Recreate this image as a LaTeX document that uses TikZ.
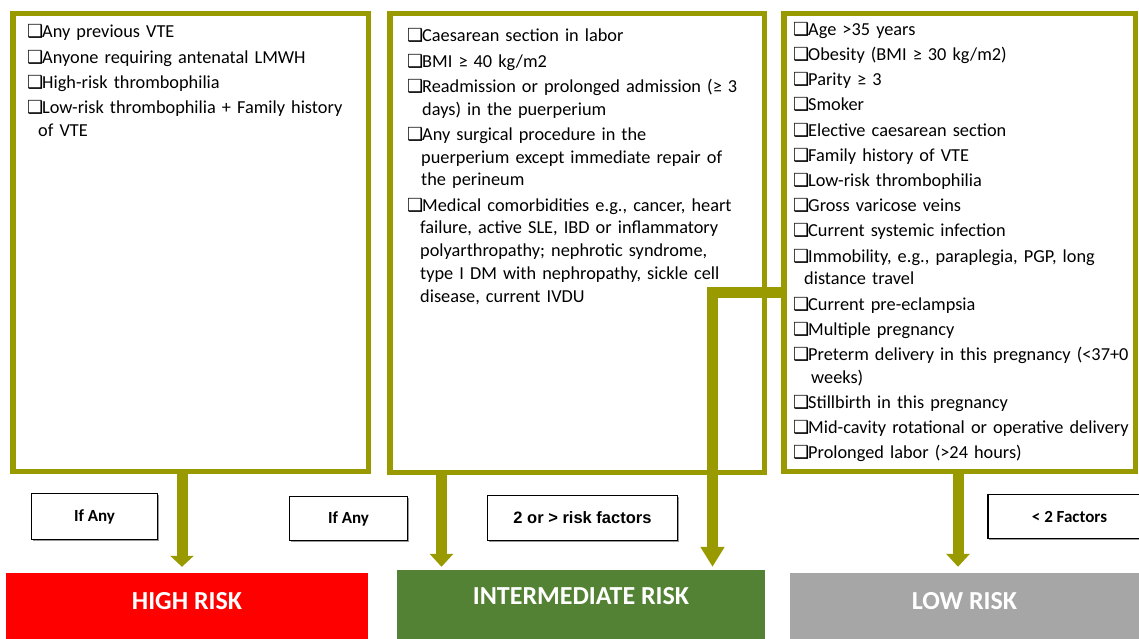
\documentclass[tikz,border=0pt]{standalone}
\usepackage{fontspec}
\setmainfont{Carlito}
\newfontfamily\dvfont{DejaVu Sans}
\newfontfamily\libfont{Liberation Sans}
\usetikzlibrary{arrows.meta,shadows}
\definecolor{olivebar}{RGB}{153,153,0}
\definecolor{hired}{RGB}{255,0,0}
\definecolor{midgreen}{RGB}{84,130,53}
\definecolor{lowgray}{RGB}{166,166,166}
\newcommand\cbx{\strut\makebox[15pt][l]{\dvfont\fontsize{18}{18}\selectfont ❑}}
\newcommand\itm[2][12pt]{\par\hangindent=#1\hangafter=1\noindent\cbx#2}
\begin{document}
\begin{tikzpicture}[x=1pt,y=-1pt,
  bigbox/.style={draw=olivebar, line width=5.5pt, fill=white, inner sep=0pt},
  listtxt/.style={anchor=north west, inner sep=0pt, text width=370pt, align=left,
    font=\fontsize{18.3}{22.8}\selectfont},
  riskbox/.style={fill=#1, text=white, inner sep=0pt,
    font=\fontsize{26}{26}\selectfont\bfseries},
  labbox/.style={draw=black, line width=1.3pt, fill=white, inner sep=0pt,
    font=\fontsize{17}{17}\selectfont\bfseries,
    drop shadow={shadow xshift=1.2pt, shadow yshift=-1.2pt, fill=gray, opacity=0.8}},
  arr/.style={draw=olivebar, line width=11pt, -{Triangle[width=23pt,length=#1]}},
  arr/.default=13pt
]
\useasboundingbox (0,0) rectangle (1139,639);

% big boxes
\node[bigbox, minimum width=355.5pt, minimum height=457.5pt] (b1) at (190.5,242.5) {};
\node[bigbox, minimum width=374.5pt, minimum height=458.5pt] (b2) at (577,243) {};
\node[bigbox, minimum width=351.5pt, minimum height=457.5pt] (b3) at (959.5,242.5) {};

% list texts
\node[listtxt] (t1) at (27,12.5) {\setlength{\parskip}{2.4pt}%
\itm{Any previous VTE}
\itm{Anyone requiring antenatal LMWH}
\itm{High-risk thrombophilia}
\itm[11pt]{Low-risk thrombophilia + Family history\newline of VTE}\par};

\node[listtxt] (t2) at (407,16.5) {\setlength{\parskip}{2.4pt}%
\itm{Caesarean section in labor}
\itm{BMI ≥ 40 kg/m2}
\itm[15pt]{Readmission or prolonged admission (≥ 3\newline days) in the puerperium}
\itm[14pt]{Any surgical procedure in the\newline puerperium except immediate repair of\newline the perineum}
\itm[13pt]{Medical comorbidities e.g., cancer, heart\newline failure, active SLE, IBD or inflammatory\newline polyarthropathy; nephrotic syndrome,\newline type I DM with nephropathy, sickle cell\newline disease, current IVDU}\par};

\node[listtxt] (t3) at (793,10) {\setlength{\parskip}{2.4pt}%
\itm{Age >35 years}
\itm{Obesity (BMI ≥ 30 kg/m2)}
\itm{Parity ≥ 3}
\itm{Smoker}
\itm{Elective caesarean section}
\itm{Family history of VTE}
\itm{Low-risk thrombophilia}
\itm{Gross varicose veins}
\itm{Current systemic infection}
\itm[11pt]{Immobility, e.g., paraplegia, PGP, long\newline distance travel}
\itm{Current pre-eclampsia}
\itm{Multiple pregnancy}
\itm[18pt]{Preterm delivery in this pregnancy (<37+0\newline weeks)}
\itm{Stillbirth in this pregnancy}
\itm{Mid-cavity rotational or operative delivery}
\itm{Prolonged labor (>24 hours)}\par};

% risk boxes
\node[riskbox=hired, minimum width=362pt, minimum height=66pt,
  text height=16.4pt, text depth=10pt] (high) at (187,606) {HIGH RISK};
\node[riskbox=midgreen, minimum width=368pt, minimum height=69pt,
  text height=16.4pt, text depth=17pt] (inter) at (581,604.5) {INTERMEDIATE RISK};
\node[riskbox=lowgray, minimum width=349pt, minimum height=66pt,
  text height=16.4pt, text depth=10pt] (low) at (964.5,606) {LOW RISK};

% condition labels
\node[labbox, minimum width=126pt, minimum height=46pt] (l1) at (94.5,516.5) {If Any};
\node[labbox, minimum width=118pt, minimum height=44pt] (l2) at (348.5,518.5) {If Any};
\node[labbox, minimum width=190pt, minimum height=45pt,
  font=\libfont\fontsize{16.5}{16.5}\selectfont\bfseries] (l3) at (582.5,518) {2 or > risk factors};
\node[labbox, minimum width=163pt, minimum height=44pt] (l4) at (1069.5,516.5) {< 2 Factors};

% connectors
\coordinate (s1) at ([xshift=-8.5pt,yshift=2pt]b1.south);
\coordinate (s2) at ([xshift=-135.5pt,yshift=2pt]b2.south);
\coordinate (s3) at ([xshift=5pt,yshift=-50pt]b3.west);
\coordinate (s4) at ([xshift=-1.5pt,yshift=2pt]b3.south);
\coordinate (e3) at ([xshift=131.5pt]inter.north);

\draw[arr=11pt, shorten >=6pt] (s1) -- (s1 |- high.north);
\draw[arr=13pt, shorten >=3pt] (s2) -- (s2 |- inter.north);
\draw[arr=20pt, shorten >=3pt] (s3) -| (e3);
\draw[arr=13pt, shorten >=6pt] (s4) -- (s4 |- low.north);
\end{tikzpicture}
\end{document}
